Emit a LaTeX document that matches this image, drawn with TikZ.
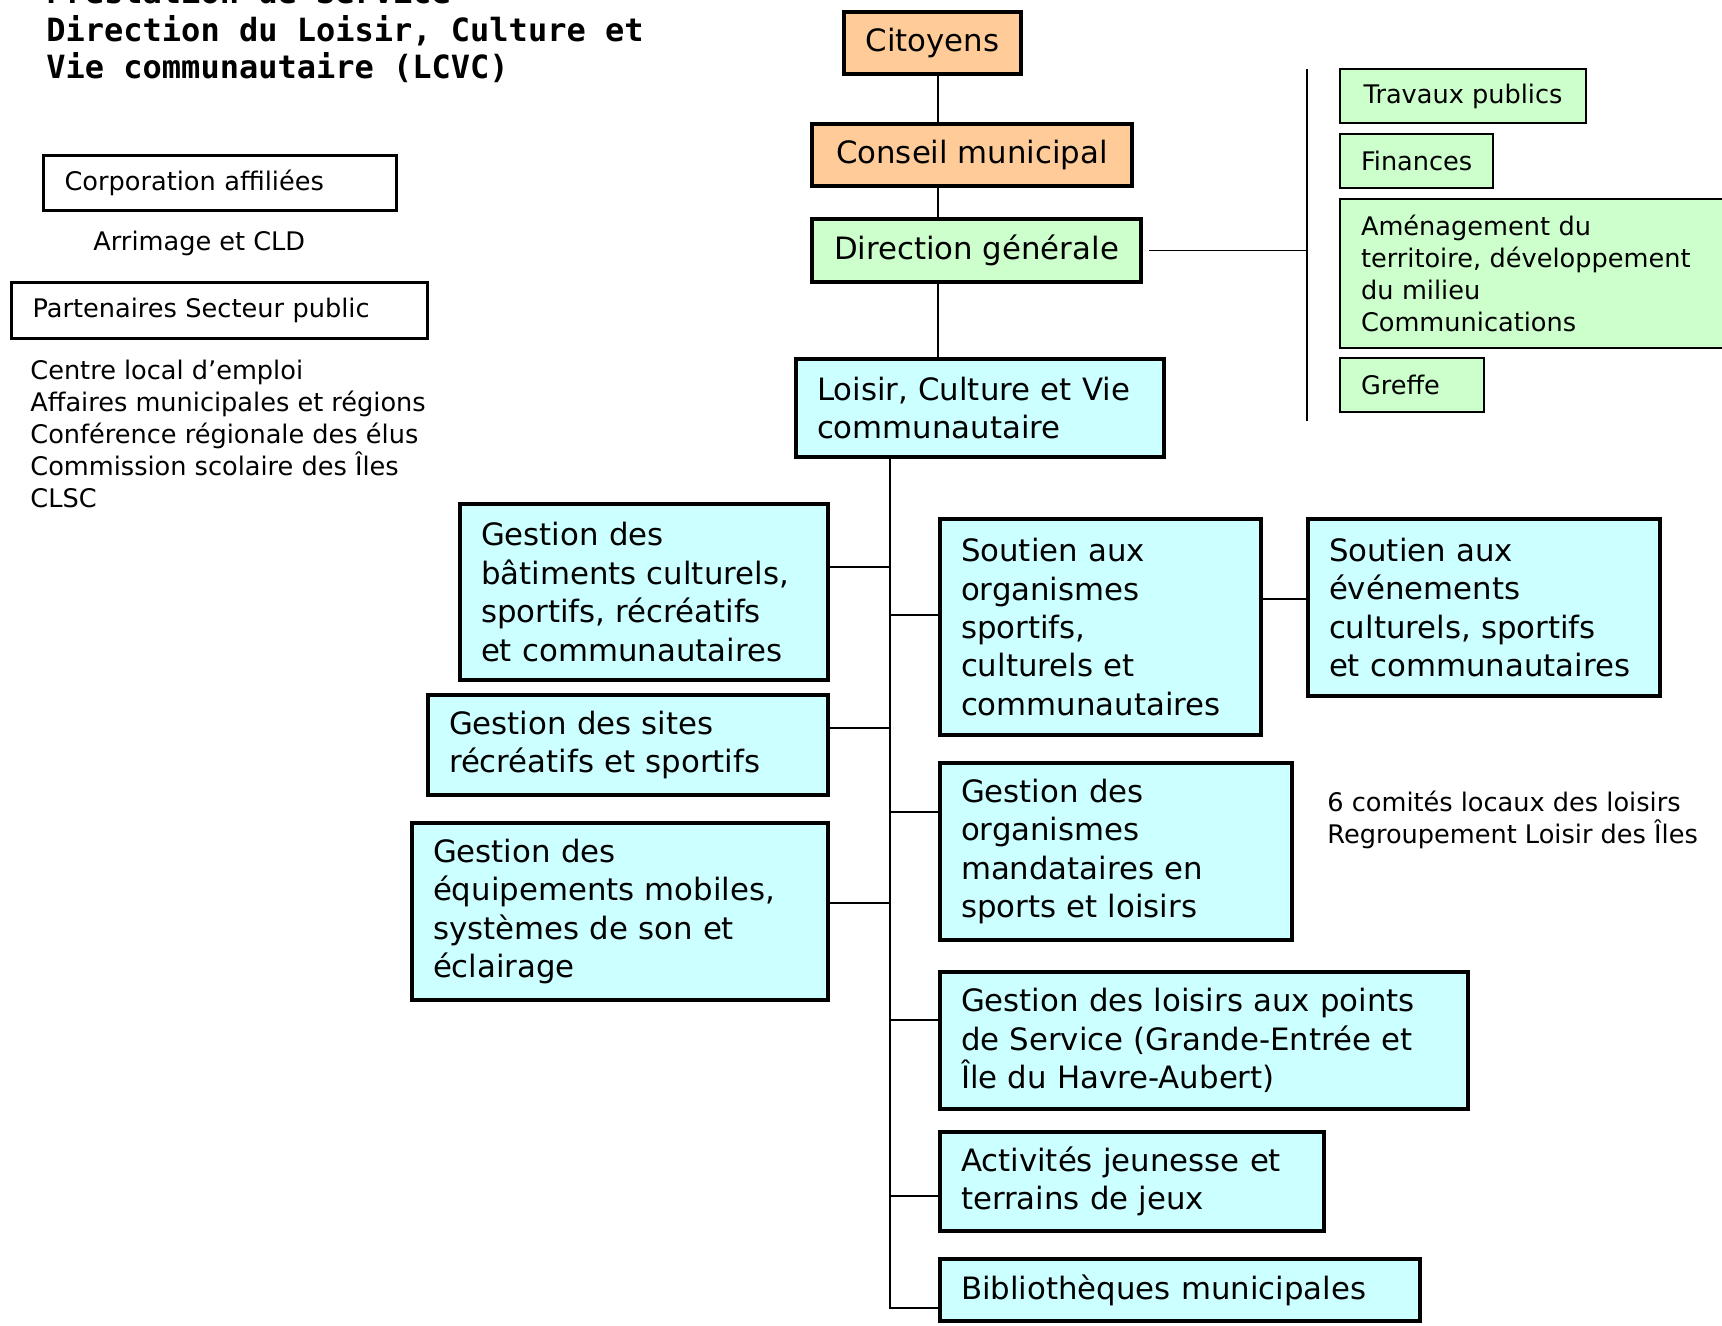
\documentclass[tikz,border=0pt]{standalone}
\usepackage{fontspec}
\setmainfont{DejaVu Sans}
\newfontfamily\titlefont{DejaVu Sans Mono Bold}
\usepackage{xcolor}
\usepackage{tikz}
\usetikzlibrary{positioning,calc}
\definecolor{orangebox}{HTML}{FFCC99}
\definecolor{greenbox}{HTML}{CCFFCC}
\definecolor{cyanbox}{HTML}{CCFFFF}
\newcommand{\bigtxt}{\fontsize{15.4}{19.2}\selectfont}
\newcommand{\smalltxt}{\fontsize{12.8}{16}\selectfont}
\tikzset{
  unit/.style={draw, line width=2pt, anchor=north west, inner xsep=10.5pt, inner ysep=0pt, font=\bigtxt},
  topbox/.style={unit, fill=orangebox, align=center},
  dirbox/.style={unit, fill=greenbox, align=center},
  lcvcbox/.style={unit, fill=cyanbox, align=left},
  service/.style={draw, line width=1pt, fill=greenbox, anchor=north west, inner xsep=10.5pt, inner ysep=0pt, font=\smalltxt, align=left},
  partner/.style={draw, line width=1.6pt, anchor=north west, inner xsep=10.5pt, inner ysep=0pt, font=\smalltxt, align=left},
  plain/.style={anchor=base west, inner sep=0pt, font=\smalltxt, align=left},
  link/.style={line width=0.75pt}
}

\begin{document}
\begin{tikzpicture}[x=0.5pt,y=-0.5pt]
        \useasboundingbox (0,0) rectangle (1722,1326);

        % titre (base = derniere ligne)
        \node[anchor=base west, inner sep=0pt, align=left, font=\titlefont\fontsize{16}{18.75}\selectfont] (title) at (46,79)
            {Prestation de Service\\Direction du Loisir, Culture et\\Vie communautaire (LCVC)};

        % partenaires
        \node[partner, minimum width=176.5pt, minimum height=27.5pt, text width=155.5pt] (corp) at (42,154) {Corporation affiliées};
        \node[plain] (arrim) at (93,251) {Arrimage et CLD};
        \node[partner, minimum width=208pt, minimum height=28pt, text width=187pt] (part) at (10,281) {Partenaires Secteur public};
        \node[plain] (publics) at (30,507) {Centre local d’emploi\\Affaires municipales et régions\\Conférence régionale des élus\\Commission scolaire des Îles\\CLSC};

        % hierarchie
        \node[topbox, minimum width=88.5pt, minimum height=31pt] (cit) at (842,10) {Citoyens};
        \node[topbox, minimum width=160pt, minimum height=31pt] (cons) at (810,122) {Conseil municipal};
        \node[dirbox, minimum width=164.5pt, minimum height=31.5pt] (dg) at (810,217) {Direction générale};
        \node[lcvcbox, minimum width=184pt, minimum height=49pt, text width=163pt] (lcvc) at (794,357) {Loisir, Culture et Vie\\communautaire};

        % autres services
        \node[service, minimum width=123pt, minimum height=27pt] (tp) at (1339,68) {Travaux publics};
        \node[service, minimum width=76pt, minimum height=27pt] (fin) at (1339,133) {Finances};
        \node[service, minimum width=195pt, minimum height=74.5pt, text width=174pt] (amen) at (1339,198) {Aménagement du\\territoire, développement\\du milieu\\Communications};
        \node[service, minimum width=72pt, minimum height=27pt, text width=51pt] (gref) at (1339,357) {Greffe};

        % gauche
        \node[lcvcbox, minimum width=184pt, minimum height=88pt, text width=163pt] (bat) at (458,502) {Gestion des\\bâtiments culturels,\\sportifs, récréatifs\\et communautaires};
        \node[lcvcbox, minimum width=200pt, minimum height=50pt, text width=179pt] (sites) at (426,693) {Gestion des sites\\récréatifs et sportifs};
        \node[lcvcbox, minimum width=208pt, minimum height=88.5pt, text width=187pt] (equip) at (410,821) {Gestion des\\équipements mobiles,\\systèmes de son et\\éclairage};

        % droite
        \node[lcvcbox, minimum width=160.5pt, minimum height=108pt, text width=139.5pt] (soa) at (938,517) {Soutien aux\\organismes\\sportifs,\\culturels et\\communautaires};
        \node[lcvcbox, minimum width=176pt, minimum height=88.5pt, text width=155pt] (sev) at (1306,517) {Soutien aux\\événements\\culturels, sportifs\\et communautaires};
        \node[lcvcbox, minimum width=176pt, minimum height=88.5pt, text width=155pt] (gom) at (938,761) {Gestion des\\organismes\\mandataires en\\sports et loisirs};
        \node[plain] (comites) at (1327,843) {6 comités locaux des loisirs\\Regroupement Loisir des Îles};
        \node[lcvcbox, minimum width=264pt, minimum height=68.5pt, text width=243pt] (glp) at (938,970) {Gestion des loisirs aux points\\de Service (Grande-Entrée et\\Île du Havre-Aubert)};
        \node[lcvcbox, minimum width=192pt, minimum height=49.5pt, text width=171pt] (ajt) at (938,1130) {Activités jeunesse et\\terrains de jeux};
        \node[lcvcbox, minimum width=240pt, minimum height=31pt, text width=219pt] (bib) at (938,1257) {Bibliothèques municipales};

        % liens
        \coordinate (spine) at (938,0);
        \coordinate (trunk) at (890,0);
        \coordinate (bartop) at (1307,69);
        \coordinate (barbot) at (1307,421);
        \draw[link] (cit.south -| spine) -- (cons.north -| spine);
        \draw[link] (cons.south -| spine) -- (dg.north -| spine);
        \draw[link] (dg.south -| spine) -- (lcvc.north -| spine);
        \draw[link] (bartop) -- (barbot);
        \draw[link] ([xshift=3pt]dg.east) -- (dg.east -| bartop);
        \draw[link] (lcvc.south -| trunk) |- ([yshift=-9pt]bib.west);
        \foreach \n/\d in {bat/12.5pt, sites/8.5pt, equip/4.25pt}
            \draw[link] ([yshift=\d]\n.east) -- ([yshift=\d]\n.east -| trunk);
        \foreach \n/\d in {soa/6pt, gom/19.75pt, glp/10.25pt, ajt/-7.25pt}
            \draw[link] ([yshift=\d]\n.west -| trunk) -- ([yshift=\d]\n.west);
        \draw[link] ([yshift=14pt]soa.east) -- ([yshift=14pt]soa.east -| sev.west);
\end{tikzpicture}
\end{document}
